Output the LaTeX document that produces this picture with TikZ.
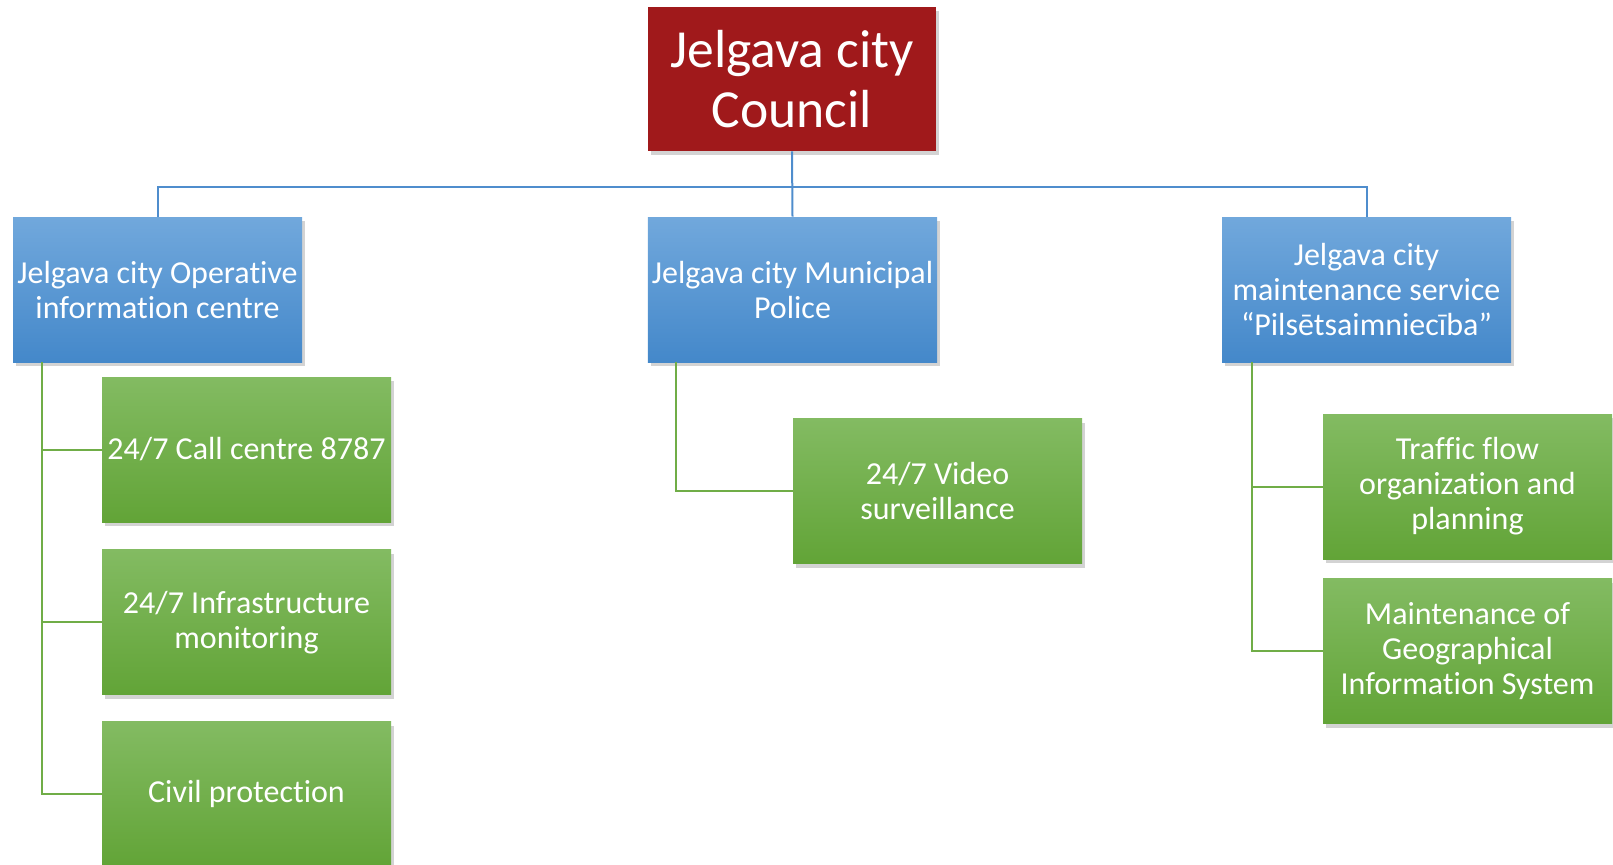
\documentclass[tikz,border=0pt]{standalone}
\usepackage{fontspec}
\setmainfont{Carlito}[Ligatures=NoCommon]
\usepackage{xcolor}
\usepackage{tikz}
\usetikzlibrary{positioning, shadows}

\definecolor{councilred}{RGB}{160,25,27}
\definecolor{bluetop}{RGB}{113,168,220}
\definecolor{bluebottom}{RGB}{68,136,202}
\definecolor{greentop}{RGB}{131,187,98}
\definecolor{greenbottom}{RGB}{98,164,55}
\definecolor{blueline}{RGB}{79,141,205}
\definecolor{greenline}{RGB}{112,173,71}

\tikzset{
	unitbox/.style={text=white, align=center, minimum width=144.5pt, minimum height=72.5pt, inner sep=2pt,
		drop shadow={shadow xshift=1.5pt, shadow yshift=-2pt, opacity=0.35},
		font=\fontsize{16}{17.5}\selectfont},
	bluebox/.style={unitbox, top color=bluetop, bottom color=bluebottom},
	greenbox/.style={unitbox, top color=greentop, bottom color=greenbottom},
	bluelink/.style={draw=blueline, line width=1pt},
	greenlink/.style={draw=greenline, line width=1pt}
}

\begin{document}
\begin{tikzpicture}[x=0.5pt, y=-0.5pt]
		\useasboundingbox (0,0) rectangle (1613,864);

		% Council box
		\node[unitbox, fill=councilred, minimum width=144pt, minimum height=72pt,
			font=\fontsize{26.8}{30}\selectfont] (council) at (792,79) {Jelgava city\\Council};

		% Second level boxes
		\node[bluebox] (operative) at (157.5,289.5) {Jelgava city Operative\\information centre};
		\node[bluebox] (police) at (792.5,289.5) {Jelgava city Municipal\\Police};
		\node[bluebox] (maintenance) at (1366.5,289.5) {Jelgava city\\maintenance service\\“Pilsētsaimniecība”};

		% Operative centre tasks
		\node[greenbox] (callcentre) at (246.5,449.5) {24/7 Call centre 8787};
		\node[greenbox, below=13.5pt of callcentre] (infrastructure) {24/7 Infrastructure\\monitoring};
		\node[greenbox, below=13pt of infrastructure] (civil) {Civil protection};

		% Police task
		\node[greenbox] (video) at (937.5,491) {24/7 Video\\surveillance};

		% Maintenance service tasks
		\node[greenbox] (traffic) at (1467.5,486.5) {Traffic flow\\organization and\\planning};
		\node[greenbox, below=9.5pt of traffic] (gis) {Maintenance of\\Geographical\\Information System};

		% Lines from the council
		\coordinate (bus) at (792,187);
		\draw[bluelink] (council.south) -- (police.north);
		\draw[bluelink] (operative.north) |- (bus) -| (maintenance.north);

		% Lines to the tasks
		\draw[greenlink] ([xshift=14.5pt]operative.south west) |- (callcentre.west);
		\draw[greenlink] ([xshift=14.5pt]operative.south west) |- (infrastructure.west);
		\draw[greenlink] ([xshift=14.5pt]operative.south west) |- (civil.west);
		\draw[greenlink] ([xshift=14.5pt]police.south west) |- (video.west);
		\draw[greenlink] ([xshift=15pt]maintenance.south west) |- (traffic.west);
		\draw[greenlink] ([xshift=15pt]maintenance.south west) |- (gis.west);
	\end{tikzpicture}
\end{document}
